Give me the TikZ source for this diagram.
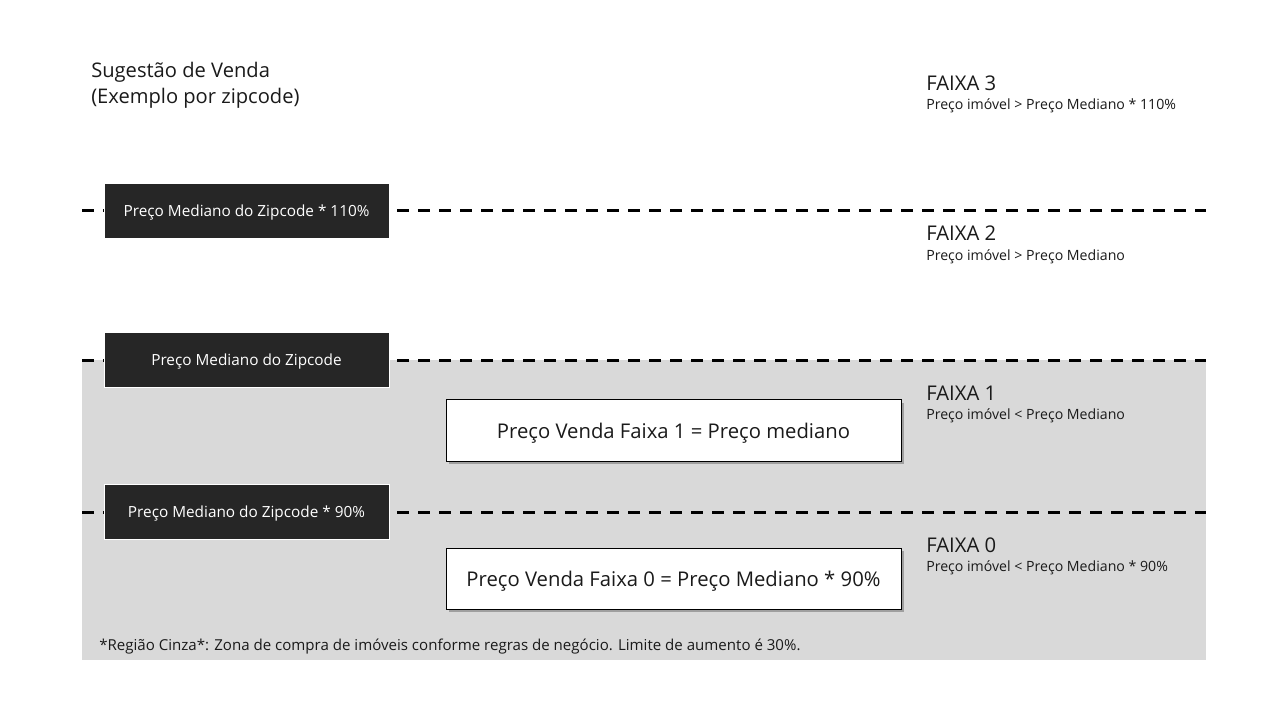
\documentclass[tikz,border=0pt]{standalone}
\usepackage{fontspec}
\setmainfont{Open Sans}
\usetikzlibrary{shadows}
\definecolor{zonegray}{HTML}{D9D9D9}
\definecolor{darkbox}{HTML}{262626}
\definecolor{txt}{HTML}{1A1A1A}
\tikzset{
  limitline/.style={line width=2.25pt, dash pattern=on 9pt off 6.75pt, black},
  medbox/.style={fill=darkbox, draw=white, line width=0.5pt, text=white, font=\fontsize{11.5}{13}\selectfont,
    minimum width=213.75pt, minimum height=41.25pt, inner sep=0pt, text depth=0pt},
  salebox/.style={fill=white, draw=black, line width=0.75pt, text=txt, font=\fontsize{15.2}{17}\selectfont,
    minimum width=341.25pt, minimum height=46pt, inner sep=0pt, text depth=0pt,
    drop shadow={shadow xshift=2pt, shadow yshift=-2pt, opacity=0.5, fill=black!60}},
  faixa/.style={anchor=base west, inner sep=0pt, text=txt, font=\fontsize{15.2}{17}\selectfont},
  faixasub/.style={anchor=base west, inner sep=0pt, text=txt, font=\fontsize{10.6}{12}\selectfont},
  titletext/.style={anchor=base west, inner sep=0pt, text=txt, font=\fontsize{15.1}{17}\selectfont},
}
\begin{document}
\begin{tikzpicture}[x=0.75pt,y=-0.75pt]
\useasboundingbox[fill=white] (0,0) rectangle (1280,720);
% gray zone
\fill[zonegray] (82,360) rectangle (1206,660);
% limit lines
\coordinate (l3a) at (82,211); \coordinate (l3b) at (1206,211);
\coordinate (l2a) at (82,360); \coordinate (l2b) at (1206,360);
\coordinate (l1a) at (82,512); \coordinate (l1b) at (1206,512);
\draw[limitline] (l3a) -- (l3b);
\draw[limitline] (l2a) -- (l2b);
\draw[limitline] (l1a) -- (l1b);
% title
\node[titletext] (t1) at (91,78) {Sugestão de Venda};
\node[titletext] (t2) at (91,104) {(Exemplo por zipcode)};
% dark boxes
\node[medbox] (m110) at (246.5,210.5) {Preço Mediano do Zipcode * 110\%};
\node[medbox] (m100) at (246.5,360) {Preço Mediano do Zipcode};
\node[medbox] (m90) at (246.5,512) {Preço Mediano do Zipcode * 90\%};
% sale boxes
\node[salebox] (s1) at (673.5,430.5) {Preço Venda Faixa 1 = Preço mediano};
\node[salebox] (s0) at (673.5,579) {Preço Venda Faixa 0 = Preço Mediano * 90\%};
% faixa labels
\node[faixa] (f3) at (926,91) {FAIXA 3};
\node[faixasub] (f3s) at (926,110) {Preço imóvel > Preço Mediano * 110\%};
\node[faixa] (f2) at (926,241) {FAIXA 2};
\node[faixasub] (f2s) at (926,260) {Preço imóvel > Preço Mediano};
\node[faixa] (f1) at (926,400) {FAIXA 1};
\node[faixasub] (f1s) at (926,419) {Preço imóvel < Preço Mediano};
\node[faixa] (f0) at (926,552) {FAIXA 0};
\node[faixasub] (f0s) at (926,571) {Preço imóvel < Preço Mediano * 90\%};
% footnote
\node[anchor=base west, inner sep=0pt, text=txt, font=\fontsize{11.3}{13}\selectfont] (note) at (99,650) {*Região Cinza*: Zona de compra de imóveis conforme regras de negócio. Limite de aumento é 30\%.};
\end{tikzpicture}
\end{document}
